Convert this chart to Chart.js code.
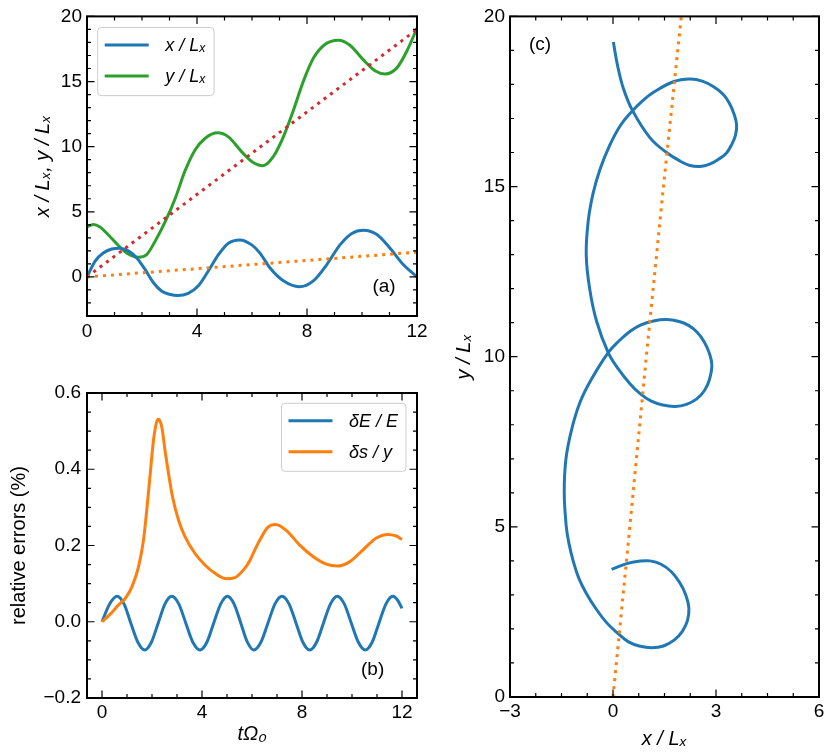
<!DOCTYPE html>
<html><head><meta charset="utf-8">
<script src="https://cdn.jsdelivr.net/npm/chart.js@4.4.1/dist/chart.umd.min.js"></script>
<style>
html,body{margin:0;padding:0;background:#fff;}
#wrap{position:relative;width:830px;height:755px;overflow:hidden;}
#wrap canvas{position:absolute;left:0;top:0;}
</style></head><body>
<div id="wrap">
<canvas id="ca" width="830" height="755"></canvas>
<canvas id="cb" width="830" height="755"></canvas>
<canvas id="cc" width="830" height="755"></canvas>
</div>
<script>
// ---------- data ----------
// panel (a): x/Lx vs t
const tXa = [0, 0.29, 0.59, 0.9, 1.18, 1.5, 1.81, 2.11, 2.41, 2.72, 3.0, 3.3, 3.68, 4.05, 4.41, 4.78, 5.14, 5.56, 5.99, 6.29, 6.65, 7.14, 7.72, 8.23, 8.72, 9.2, 9.63, 10.05, 10.53, 11.02, 11.5, 12.0];
const xLx = [0, 1.2, 1.83, 2.14, 2.21, 2.0, 1.46, 0.58, -0.43, -1.1, -1.33, -1.43, -1.26, -0.68, 0.45, 1.71, 2.59, 2.84, 2.46, 1.83, 0.7, -0.3, -0.75, -0.3, 0.95, 2.46, 3.34, 3.59, 3.27, 2.21, 0.95, 0.0];
// panel (a): y/Lx vs t
const tYa = [0, 0.23, 0.47, 0.78, 1.14, 1.44, 1.87, 2.17, 2.47, 2.84, 3.2, 3.56, 3.93, 4.29, 4.75, 5.14, 5.62, 6.0, 6.4, 6.78, 7.14, 7.5, 7.87, 8.23, 8.65, 9.14, 9.56, 10.05, 10.47, 10.84, 11.26, 11.62, 12.0];
const yLx = [3.84, 4.02, 3.84, 3.22, 2.41, 1.83, 1.51, 1.71, 2.71, 4.22, 5.98, 8.12, 9.75, 10.63, 11.06, 10.75, 9.62, 8.85, 8.54, 9.25, 10.75, 12.76, 15.03, 16.78, 17.84, 18.17, 17.79, 16.66, 15.83, 15.58, 16.03, 17.29, 19.1];
// panel (a): drift lines
const tDrift = [0, 12];
const xDrift = [0, 1.9];
const yDrift = [0, 19.0];
// panel (b): dE/E
const tE = [0, 0.3, 0.6, 0.88, 1.15, 1.43, 1.71, 1.98, 2.25, 2.52, 2.79, 3.07, 3.35, 3.63, 3.92, 4.2, 4.47, 4.75, 5.02, 5.28, 5.55, 5.81, 6.07, 6.36, 6.64, 6.92, 7.2, 7.48, 7.76, 8.03, 8.31, 8.59, 8.86, 9.14, 9.41, 9.69, 9.97, 10.25, 10.53, 10.81, 11.08, 11.36, 11.63, 11.82, 12.0];
const dE = [0, 0.046, 0.067, 0.047, -0.003, -0.053, -0.074, -0.053, -0.003, 0.047, 0.067, 0.047, -0.003, -0.053, -0.074, -0.053, -0.003, 0.047, 0.067, 0.047, -0.003, -0.053, -0.074, -0.053, -0.003, 0.047, 0.067, 0.047, -0.003, -0.053, -0.074, -0.053, -0.003, 0.047, 0.067, 0.047, -0.003, -0.053, -0.074, -0.053, -0.003, 0.047, 0.067, 0.057, 0.035];
// panel (b): ds/y
const tS = [0, 0.33, 0.66, 0.93, 1.2, 1.46, 1.66, 1.79, 1.93, 2.06, 2.17, 2.26, 2.39, 2.52, 2.66, 2.82, 3.06, 3.32, 3.72, 4.12, 4.52, 4.98, 5.32, 5.71, 5.91, 6.11, 6.31, 6.64, 6.95, 7.38, 7.91, 8.44, 8.97, 9.41, 9.9, 10.43, 10.96, 11.43, 11.76, 12.0];
const dS = [0, 0.02, 0.044, 0.061, 0.092, 0.144, 0.214, 0.293, 0.389, 0.476, 0.52, 0.531, 0.511, 0.45, 0.389, 0.328, 0.267, 0.223, 0.179, 0.149, 0.127, 0.113, 0.116, 0.14, 0.160, 0.188, 0.214, 0.248, 0.255, 0.239, 0.201, 0.171, 0.151, 0.146, 0.157, 0.188, 0.219, 0.229, 0.225, 0.216];
// panel (c): trajectory y/Lx vs x/Lx
const trajX = [-0.04, 0.4, 0.75, 1.08, 1.4, 1.7, 1.95, 2.12, 2.21, 2.17, 2.02, 1.78, 1.47, 1.13, 0.8, 0.45, 0.11, -0.2, -0.5, -0.78, -1.0, -1.16, -1.28, -1.36, -1.42, -1.37, -1.2, -0.96, -0.65, -0.14, 0.17, 0.5, 0.8, 1.18, 1.56, 1.9, 2.2, 2.45, 2.65, 2.8, 2.88, 2.8, 2.66, 2.44, 2.14, 1.81, 1.45, 1.1, 0.78, 0.5, 0.17, -0.14, -0.48, -0.68, -0.78, -0.72, -0.58, -0.38, -0.1, 0.22, 0.57, 0.86, 1.18, 1.76, 2.24, 2.6, 2.92, 3.2, 3.39, 3.53, 3.6, 3.57, 3.46, 3.3, 3.07, 2.8, 2.54, 2.24, 1.95, 1.56, 1.08, 0.57, 0.3, 0.13, 0.01];
const trajY = [3.75, 3.92, 3.99, 4.0, 3.9, 3.68, 3.35, 3.0, 2.62, 2.25, 1.93, 1.67, 1.5, 1.45, 1.49, 1.62, 1.9, 2.2, 2.6, 3.05, 3.5, 4.0, 4.5, 5.0, 6.0, 7.0, 7.88, 8.66, 9.3, 10.12, 10.46, 10.75, 10.93, 11.05, 11.09, 11.04, 10.92, 10.72, 10.45, 10.12, 9.75, 9.3, 9.0, 8.76, 8.6, 8.54, 8.58, 8.7, 8.92, 9.2, 9.62, 10.12, 11.05, 12.0, 13.0, 14.0, 14.8, 15.5, 16.2, 16.8, 17.23, 17.52, 17.77, 18.08, 18.16, 18.1, 17.94, 17.72, 17.45, 17.12, 16.82, 16.52, 16.24, 15.98, 15.8, 15.65, 15.59, 15.62, 15.75, 16.0, 16.43, 17.23, 17.89, 18.57, 19.25];
// panel (c): guiding-centre line
const guideX = [0, 0.49, 0.97, 1.47, 1.99];
const guideY = [0, 5, 10, 15, 20];
// tick labels
const ticksAx = [0, 4, 8, 12];
const ticksAy = [0, 5, 10, 15, 20];
const ticksBx = [0, 4, 8, 12];
const ticksBy = [-0.2, 0.0, 0.2, 0.4, 0.6];
const ticksCx = [-3, 0, 3, 6];
const ticksCy = [0, 5, 10, 15, 20];

// ---------- helpers ----------
const C = {blue: '#1f77b4', orange: '#ff7f0e', green: '#2ca02c', red: '#d62728'};
const FONT = "'Liberation Sans', Arial, sans-serif";
Chart.defaults.font.family = FONT;
Chart.defaults.font.size = 19;
Chart.defaults.color = '#000';
Chart.defaults.animation = false;

const pts = (xs, ys) => xs.map((x, i) => ({x: x, y: ys[i]}));
const range = (a, b, s) => { const r = []; for (let k = 0; a + k * s <= b + 1e-9; k++) r.push(+(a + k * s).toFixed(6)); return r; };
const minus = s => String(s).replace('-', '\u2212');

function axis(kind, min, max, ticks, fmt, size, pad, title) {
  return {
    type: 'linear', min: min, max: max,
    afterBuildTicks: s => { s.ticks = ticks.map(v => ({value: v})); },
    afterFit: s => { if (kind === 'x') s.height = size; else s.width = size; },
    grid: {display: false, drawTicks: false},
    border: {display: false},
    ticks: {padding: pad, autoSkip: false, maxRotation: 0, callback: fmt, font: {size: 19}},
    title: title ? {display: true, text: title.text, padding: {top: 4, bottom: 4}, font: {size: 20, style: title.italic ? 'italic' : 'normal'}} : {display: false}
  };
}

const framePlugin = {
  id: 'frame',
  afterDatasetsDraw(chart, args, o) {
    const {ctx, chartArea: a} = chart;
    const sx = chart.scales.x, sy = chart.scales.y;
    ctx.save();
    ctx.strokeStyle = '#000';
    ctx.lineWidth = 1.2;
    ctx.beginPath();
    const tx = (vals, len) => vals.forEach(v => { const p = sx.getPixelForValue(v); ctx.moveTo(p, a.bottom); ctx.lineTo(p, a.bottom - len); ctx.moveTo(p, a.top); ctx.lineTo(p, a.top + len); });
    const ty = (vals, len) => vals.forEach(v => { const p = sy.getPixelForValue(v); ctx.moveTo(a.left, p); ctx.lineTo(a.left + len, p); ctx.moveTo(a.right, p); ctx.lineTo(a.right - len, p); });
    tx(o.xMinor, 4); ty(o.yMinor, 4); tx(o.xMajor, 7.5); ty(o.yMajor, 7.5);
    ctx.stroke();
    ctx.lineWidth = 2;
    ctx.strokeRect(a.left, a.top, a.right - a.left, a.bottom - a.top);
    if (o.label) {
      ctx.font = '19px ' + FONT;
      ctx.fillStyle = '#000';
      ctx.textAlign = 'center';
      ctx.textBaseline = 'middle';
      const lx = o.label.fromRight ? a.right - o.label.dx : a.left + o.label.dx;
      const ly = o.label.fromBottom ? a.bottom - o.label.dy : a.top + o.label.dy;
      ctx.fillText(o.label.text, lx, ly);
    }
    ctx.restore();
  }
};

const boxLegend = {
  id: 'boxLegend',
  afterDatasetsDraw(chart, args, o) {
    if (!o || !o.items) return;
    const {ctx, chartArea: a} = chart;
    ctx.save();
    ctx.font = 'italic 18px ' + FONT;
    const dsets = o.items.map(i => chart.data.datasets[i]);
    const tw = Math.max(...dsets.map(d => ctx.measureText(d.label).width));
    const w = 67.5 + tw + 8, h = 68;
    const x0 = o.side === 'left' ? a.left + o.dx : a.right - o.dx - w;
    const y0 = a.top + o.dy;
    ctx.beginPath();
    ctx.roundRect(x0, y0, w, h, 3.5);
    ctx.fillStyle = 'rgba(255,255,255,0.8)';
    ctx.fill();
    ctx.strokeStyle = '#cccccc';
    ctx.lineWidth = 1;
    ctx.stroke();
    dsets.forEach((d, k) => {
      const yy = y0 + 17.5 + 31 * k;
      ctx.beginPath();
      ctx.strokeStyle = d.borderColor;
      ctx.lineWidth = d.borderWidth;
      ctx.moveTo(x0 + 7, yy); ctx.lineTo(x0 + 51, yy);
      ctx.stroke();
      ctx.fillStyle = '#000';
      ctx.textAlign = 'left';
      ctx.textBaseline = 'middle';
      ctx.fillText(d.label, x0 + 67.5, yy + 1);
    });
    ctx.restore();
  }
};

function solid(label, data, color, order) {
  return {label: label, data: data, borderColor: color, borderWidth: 3, pointRadius: 0, fill: false, cubicInterpolationMode: 'monotone', order: order};
}
function dotted(label, data, color, order) {
  return {label: label, data: data, borderColor: color, borderWidth: 3, borderDash: [3, 5], borderCapStyle: 'butt', pointRadius: 0, fill: false, tension: 0, order: order};
}
const common = {responsive: false, animation: false, events: []};

// ---------- panel (a) ----------
new Chart(document.getElementById('ca'), {
  type: 'line',
  data: {datasets: [
    solid('x / L\u2093', pts(tXa, xLx), C.blue, 1),
    solid('y / L\u2093', pts(tYa, yLx), C.green, 1),
    dotted('x drift', pts(tDrift, xDrift), C.orange, 0),
    dotted('y drift', pts(tDrift, yDrift), C.red, 0)
  ]},
  options: Object.assign({}, common, {
    layout: {padding: {left: 27, right: 413, top: 10.5, bottom: 409}},
    scales: {
      x: axis('x', 0, 12, ticksAx, v => String(v), 30, 4.5, null),
      y: axis('y', -3, 20, ticksAy, v => minus(v), 60, 5, {text: 'x / L\u2093, y / L\u2093', italic: true})
    },
    plugins: {
      legend: {display: false}, tooltip: {enabled: false},
      frame: {xMajor: ticksAx, xMinor: range(0, 12, 1), yMajor: ticksAy, yMinor: range(-3, 20, 1),
              label: {text: '(a)', dx: 33, dy: 29.5, fromRight: true, fromBottom: true}},
      boxLegend: {items: [0, 1], side: 'left', dx: 10.7, dy: 11.2}
    }
  }),
  plugins: [framePlugin, boxLegend]
});

// ---------- panel (b) ----------
new Chart(document.getElementById('cb'), {
  type: 'line',
  data: {datasets: [
    solid('\u03b4E / E', pts(tE, dE), C.blue, 1),
    solid('\u03b4s / y', pts(tS, dS), C.orange, 0)
  ]},
  options: Object.assign({}, common, {
    layout: {padding: {left: 3.4, right: 413, top: 393, bottom: 4.6}},
    scales: {
      x: axis('x', -0.6, 12.6, ticksBx, v => String(v), 52.4, 3, {text: 't\u03a9\u2080', italic: true}),
      y: axis('y', -0.2, 0.6, ticksBy, v => minus(v.toFixed(1)), 83.6, 6, {text: 'relative errors (%)', italic: false})
    },
    plugins: {
      legend: {display: false}, tooltip: {enabled: false},
      frame: {xMajor: ticksBx, xMinor: range(0, 12, 1), yMajor: ticksBy, yMinor: range(-0.2, 0.6, 0.05),
              label: {text: '(b)', dx: 44.4, dy: 28.5, fromRight: true, fromBottom: true}},
      boxLegend: {items: [0, 1], side: 'right', dx: 11, dy: 10.3}
    }
  }),
  plugins: [framePlugin, boxLegend]
});

// ---------- panel (c) ----------
new Chart(document.getElementById('cc'), {
  type: 'line',
  data: {datasets: [
    {label: 'trajectory', data: pts(trajX, trajY), borderColor: C.blue, borderWidth: 3, pointRadius: 0, fill: false, tension: 0.4, order: 1},
    dotted('guiding centre', pts(guideX, guideY), C.orange, 0)
  ]},
  options: Object.assign({}, common, {
    layout: {padding: {left: 448.5, right: 11, top: 11, bottom: 0}},
    scales: {
      x: axis('x', -3, 6, ticksCx, v => minus(v), 58, 3, {text: 'x / L\u2093', italic: true}),
      y: axis('y', 0, 20, ticksCy, v => minus(v), 61.5, 5, {text: 'y / L\u2093', italic: true})
    },
    plugins: {
      legend: {display: false}, tooltip: {enabled: false},
      frame: {xMajor: ticksCx, xMinor: range(-3, 6, 0.75), yMajor: ticksCy, yMinor: range(0, 20, 1),
              label: {text: '(c)', dx: 30, dy: 28, fromRight: false, fromBottom: false}}
    }
  }),
  plugins: [framePlugin]
});
</script>
</body></html>
